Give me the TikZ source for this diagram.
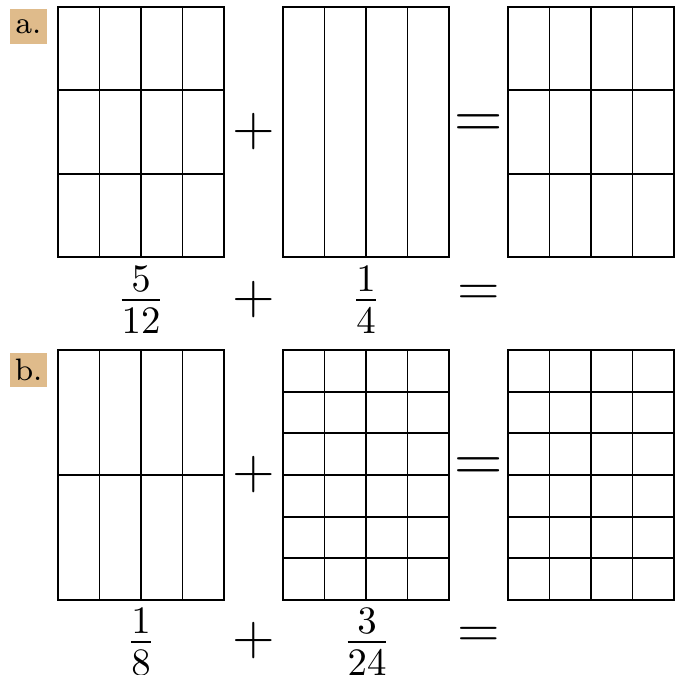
\documentclass[tikz,border=0pt]{standalone}
\usepackage{amsmath}
\usetikzlibrary{positioning}
\definecolor{tagtan}{RGB}{223,187,139}
\tikzset{
    cell/.style={draw=black, line width=0.45pt},
    tag/.style={fill=tagtan, inner sep=0pt, minimum width=9.5pt, minimum height=9pt, font=\footnotesize},
    sign/.style={inner sep=0pt, font=\Large},
    bigsign/.style={inner sep=0pt, font=\LARGE},
    fracnum/.style={inner sep=0pt, font=\Large}
}
% grid of 4 columns: x, y (top left), rows
\newcommand{\fracgrid}[3]{%
    \draw[cell] (#1,#2) rectangle ++(166,250);
    \foreach \c in {1,2,3}
        \draw[cell] ({#1+41.5*\c},#2) -- ++(0,250);
    \ifnum#3>1
        \foreach \r in {2,...,#3}
            \draw[cell] (#1,{#2+250*(\r-1)/#3}) -- ++(166,0);
    \fi
}

\begin{document}
\begin{tikzpicture}[x=0.2577pt, y=-0.2577pt]
    \useasboundingbox (0,0) rectangle (685,675);

    % -----------------------------------------------------------------
    % PART a
    % -----------------------------------------------------------------
    \node[tag] (tagA) at (28.5,26.5) {a.};
    \fracgrid{58}{7}{3}
    \fracgrid{283}{7}{1}
    \fracgrid{508}{7}{3}
    \node[sign] (plusA) at (254,132) {$+$};
    \node[bigsign] (eqA) at (479,127) {$=$};

    \node[fracnum] (fracA1) at (141,300) {$\frac{5}{12}$};
    \node[sign] (plusA2) at (254,300) {$+$};
    \node[fracnum] (fracA2) at (366,300) {$\frac{1}{4}$};
    \node[sign] (eqA2) at (479,295) {$=$};

    % -----------------------------------------------------------------
    % PART b
    % -----------------------------------------------------------------
    \node[tag] (tagB) at (28.5,370) {b.};
    \fracgrid{58}{350}{2}
    \fracgrid{283}{350}{6}
    \fracgrid{508}{350}{6}
    \node[sign] (plusB) at (254,475) {$+$};
    \node[bigsign] (eqB) at (479,470) {$=$};

    \node[fracnum] (fracB1) at (141,642) {$\frac{1}{8}$};
    \node[sign] (plusB2) at (254,641) {$+$};
    \node[fracnum] (fracB2) at (367,642) {$\frac{3}{24}$};
    \node[sign] (eqB2) at (479,637) {$=$};

\end{tikzpicture}
\end{document}
